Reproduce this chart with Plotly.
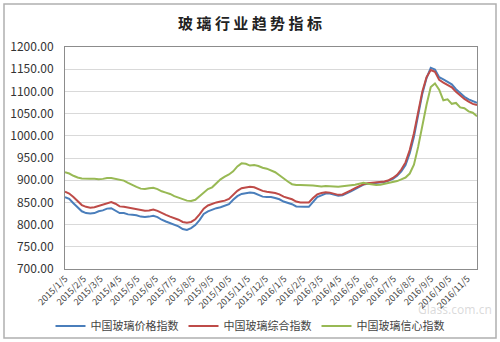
import plotly.graph_objects as go
import pandas as pd

start_date = "2015-01-05"
n_weeks = 99
dates = pd.date_range(start_date, periods=n_weeks, freq="7D")

price_index = [862, 858, 848, 838, 830, 826, 825, 826, 830, 832,
               836, 837, 832, 826, 826, 823, 822, 821, 818, 817,
               818, 820, 817, 811, 807, 803, 800, 796, 790, 788,
               792, 799, 810, 824, 830, 834, 837, 839, 842, 846,
               856, 864, 869, 871, 872, 871, 867, 863, 862, 862,
               860, 857, 852, 849, 846, 841, 840, 840, 840, 852,
               862, 866, 870, 870, 868, 865, 866, 870, 875, 880,
               885, 890, 892, 893, 893, 894, 896, 899, 903, 910,
               920, 934, 961, 998, 1045, 1095, 1130, 1153, 1149, 1132,
               1127, 1122, 1116, 1105, 1096, 1088, 1082, 1078, 1074]

composite_index = [874, 870, 862, 852, 844, 840, 838, 839, 842, 845,
                   849, 851, 847, 841, 840, 838, 836, 835, 832, 831,
                   832, 834, 831, 826, 822, 818, 815, 811, 806, 804,
                   806, 812, 823, 836, 843, 847, 850, 852, 854, 858,
                   868, 876, 882, 884, 885, 884, 880, 876, 874, 873,
                   871, 868, 863, 860, 857, 852, 850, 850, 850, 860,
                   868, 871, 873, 872, 870, 867, 868, 872, 877, 882,
                   887, 891, 893, 894, 894, 895, 897, 900, 905, 912,
                   924, 940, 968, 1006, 1054, 1100, 1132, 1148, 1144, 1126,
                   1120, 1115, 1109, 1099, 1090, 1083, 1077, 1072, 1069]

confidence_index = [918, 915, 910, 906, 904, 903, 903, 903, 902, 903,
                    905, 905, 903, 901, 899, 894, 889, 885, 881, 880,
                    882, 883, 880, 875, 872, 869, 864, 861, 857, 854,
                    853, 856, 864, 872, 880, 884, 894, 902, 908, 913,
                    920, 931, 938, 937, 933, 934, 932, 928, 926, 922,
                    918, 911, 903, 897, 891, 889, 889, 889, 888, 888,
                    887, 886, 887, 887, 886, 885, 886, 888, 889, 890,
                    892, 894, 892, 890, 889, 890, 892, 893, 895, 898,
                    902, 906, 915, 935, 975, 1025, 1070, 1110, 1118, 1104,
                    1080, 1082, 1072, 1074, 1064, 1062, 1055, 1052, 1044]

series_names = ["中国玻璃价格指数", "中国玻璃综合指数", "中国玻璃信心指数"]
series_colors = ["#4a7ebb", "#be4b48", "#98b954"]

tick_dates = pd.date_range("2015-01-01", "2016-11-01", freq="MS") + pd.Timedelta(days=4)
tick_labels = [f"{d.year}/{d.month}/{d.day}" for d in tick_dates]

t0 = pd.Timestamp(start_date)
x_weeks = [(d - t0).days / 7 for d in dates]
tick_pos = [(d - t0).days / 7 for d in tick_dates]

y_ticks = [700, 750, 800, 850, 900, 950, 1000, 1050, 1100, 1150, 1200]

fig = go.Figure()
for name, vals, col in zip(series_names, [price_index, composite_index, confidence_index], series_colors):
    fig.add_trace(go.Scatter(x=x_weeks, y=vals, mode="lines", name=name,
                             line=dict(color=col, width=2)))

fig.update_layout(
    width=500, height=342,
    margin=dict(l=65, r=23, t=47, b=73, autoexpand=False),
    paper_bgcolor="white", plot_bgcolor="white",
    font=dict(family="Noto Sans CJK SC, Noto Sans", color="#333333", size=11),
    title=dict(text="<b>玻 璃 行 业 趋 势 指 标</b>", x=0.5, xanchor="center", y=0.932, yanchor="middle",
               font=dict(size=15, color="#222222", family="Noto Sans CJK SC")),
    showlegend=True,
    legend=dict(orientation="h", xref="container", yref="container",
                x=0.5, xanchor="center", y=1 - 326 / 342, yanchor="middle",
                font=dict(size=11, color="#444444"), itemwidth=30, tracegroupgap=0,
                bgcolor="rgba(0,0,0,0)"),
)

fig.update_xaxes(
    type="linear",
    range=[x_weeks[0], x_weeks[-1]],
    tickmode="array", tickvals=tick_pos, ticktext=tick_labels, tickangle=-45,
    tickfont=dict(size=9, color="#444444"),
    showgrid=False, showline=True, linecolor="#8c8c8c", linewidth=1, mirror=True,
    ticks="", zeroline=False,
)
fig.update_yaxes(
    range=[700, 1200], tickvals=y_ticks, ticktext=[f"{v:.2f}" for v in y_ticks],
    tickfont=dict(size=12, color="#333333"),
    showgrid=True, gridcolor="#d9d9d9", gridwidth=1,
    showline=True, linecolor="#8c8c8c", linewidth=1, mirror=True,
    ticks="", ticklabelstandoff=8, zeroline=False,
)

# outer frame
fig.add_shape(type="rect", xref="paper", yref="paper",
              x0=(4 - 65) / 412, x1=(496 - 65) / 412,
              y0=(269 - 338) / 222, y1=(269 - 4) / 222,
              line=dict(color="#b0b0b0", width=1.5), fillcolor="rgba(0,0,0,0)", layer="below")

# faint watermark
fig.add_annotation(text="Glass.com.cn", xref="paper", yref="paper",
                   x=(494 - 65) / 412, y=(269 - 309) / 222, xanchor="right", yanchor="middle",
                   showarrow=False, font=dict(size=12, color="rgba(150,150,150,0.35)", family="Noto Sans"))

fig.write_html("out.html")
